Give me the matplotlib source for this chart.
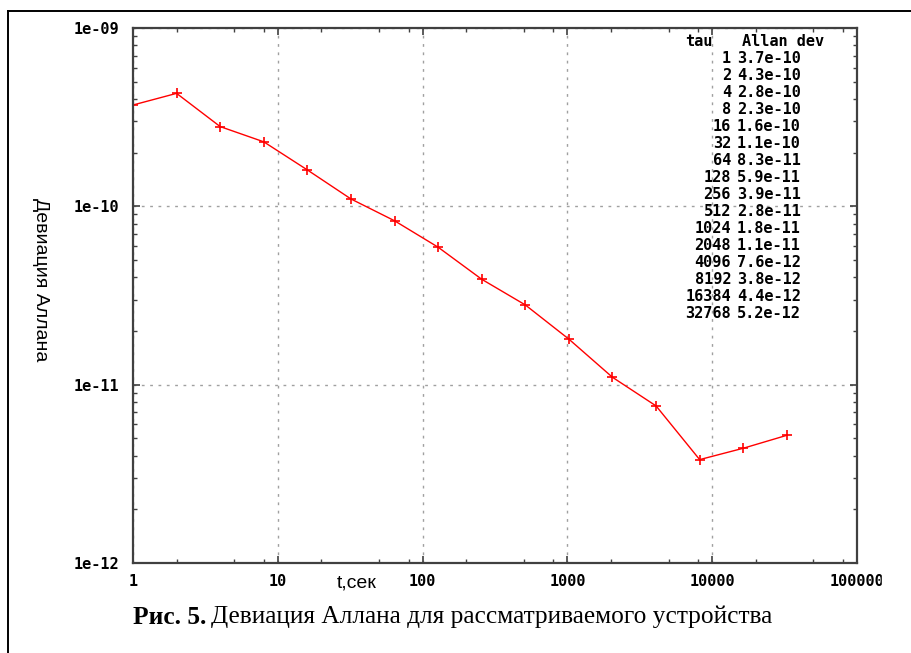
import matplotlib.pyplot as plt
import numpy as np
from matplotlib.lines import Line2D
from matplotlib.patches import Rectangle
from matplotlib.ticker import FixedLocator, NullFormatter

W, H = 911, 653

tau = [1, 2, 4, 8, 16, 32, 64, 128, 256, 512, 1024, 2048, 4096, 8192, 16384, 32768]
adev = [3.7e-10, 4.3e-10, 2.8e-10, 2.3e-10, 1.6e-10, 1.1e-10, 8.3e-11, 5.9e-11,
        3.9e-11, 2.8e-11, 1.8e-11, 1.1e-11, 7.6e-12, 3.8e-12, 4.4e-12, 5.2e-12]
x_ticks = [1, 10, 100, 1000, 10000, 100000]
y_ticks = [1e-12, 1e-11, 1e-10, 1e-9]
y_tick_labels = ["1e-12", "1e-11", "1e-10", "1e-09"]


def px(x, y):
    # pixel coords (from top-left) -> figure fraction
    return x / W, 1 - y / H


fig = plt.figure(figsize=(W / 100, H / 100), dpi=100)
ax = fig.add_axes([133 / W, 1 - 563 / H, (857 - 133) / W, (563 - 28) / H])

ax.plot(tau, adev, color="#ff0000", lw=1.0, marker="+", ms=7, mew=1.2)

ax.set_xscale("log")
ax.set_yscale("log")
ax.set_xlim(1, 100000)
ax.set_ylim(1e-12, 1e-9)

ax.xaxis.set_major_locator(FixedLocator(x_ticks))
ax.set_xticklabels([str(v) for v in x_ticks])
minor_x = [m * 10 ** d for d in range(5) for m in (2, 5, 8)]
ax.xaxis.set_minor_locator(FixedLocator(minor_x))
ax.xaxis.set_minor_formatter(NullFormatter())

ax.yaxis.set_major_locator(FixedLocator(y_ticks))
ax.set_yticklabels(y_tick_labels)
minor_y = [m * 10.0 ** d for d in range(-12, -9) for m in range(2, 10)]
ax.yaxis.set_minor_locator(FixedLocator(minor_y))
ax.yaxis.set_minor_formatter(NullFormatter())

tick_font = dict(family="DejaVu Sans Mono", weight="bold", size=11)
for lab in ax.get_xticklabels() + ax.get_yticklabels():
    lab.set_fontproperties(tick_font)

ax.tick_params(which="both", direction="in", top=True, right=True, color="#404040")
ax.tick_params(which="major", length=5, width=1.2)
ax.tick_params(which="minor", length=3, width=1.0)
ax.tick_params(axis="x", pad=8)
ax.tick_params(axis="y", pad=10)
for s in ax.spines.values():
    s.set_color("#404040")
    s.set_linewidth(1.6)

ax.grid(True, which="major", color="#a0a0a0", linestyle=(0, (2, 4)), lw=1.0)

# key table
fig.text(*px(713, 41), "tau", ha="right", va="center", **tick_font)
fig.text(*px(742, 41), "Allan dev", ha="left", va="center", **tick_font)
for i, (t, v) in enumerate(zip(tau, adev)):
    yy = 58.3 + i * 17.0
    fig.text(*px(731, yy), str(t), ha="right", va="center", **tick_font)
    fig.text(*px(737, yy), "%.1e" % v, ha="left", va="center", **tick_font)

fig.text(*px(357, 583), "t,сек", ha="center", va="center",
         family="Liberation Sans", size=14)
fig.text(*px(40, 280), "Девиация Аллана", ha="center", va="center",
         rotation=270, family="Liberation Sans", size=14)

# the last x label is cut off at the canvas edge
fig.add_artist(Rectangle((882 / W, 1 - 600 / H), (W - 882) / W, 35 / H,
                         transform=fig.transFigure, color="white", zorder=10))

# outer frame (only top and left visible)
fig.add_artist(Line2D([8 / W, 1.0], [1 - 11 / H] * 2, color="black", lw=1.4))
fig.add_artist(Line2D([8 / W] * 2, [0.0, 1 - 11 / H], color="black", lw=1.4))

# caption
cap1 = fig.text(*px(133, 617), "Рис. 5.", ha="left", va="center",
                family="Liberation Serif", weight="bold", size=18.3)
fig.canvas.draw()
bb = cap1.get_window_extent()
fig.text((bb.x1 + 5) / W, 1 - 617 / H, "Девиация Аллана для рассматриваемого устройства",
         ha="left", va="center", family="Liberation Serif", size=18.3)

fig.savefig("out.png", dpi=100)
